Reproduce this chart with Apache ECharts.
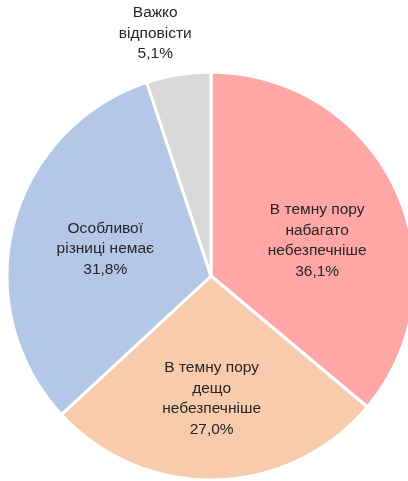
<!DOCTYPE html>
<html>
<head>
<meta charset="utf-8">
<script src="https://cdn.jsdelivr.net/npm/echarts@6/dist/echarts.min.js"></script>
<style>
  html, body { margin: 0; padding: 0; background: #fff; }
  #chart { width: 408px; height: 481px; }
</style>
</head>
<body>
<div id="chart"></div>
<script>
// data
const categories = [
  "В темну пору\nнабагато\nнебезпечніше",
  "В темну пору\nдещо\nнебезпечніше",
  "Особливої\nрізниці немає",
  "Важко\nвідповісти"
];
const shares = [36.1, 27.0, 31.8, 5.1];
const sliceColors = ["#FFA7A7", "#F8CBAD", "#B4C7E7", "#D9D9D9"];

// nudges from the default inside label spot, to match where Excel put them
const labelShift = [[11, 9], [-2, 18], [-4, -1], [-39, -139]];

const chart = echarts.init(document.getElementById("chart"));

const option = {
  animation: false,
  series: [
    {
      type: "pie",
      center: [211, 276],
      radius: [0, 204],
      startAngle: 90,
      clockwise: true,
      data: categories.map((name, i) => ({
        name,
        value: shares[i],
        itemStyle: { color: sliceColors[i] }
      })),
      itemStyle: {
        borderColor: "#fff",
        borderWidth: 3
      },
      label: {
        show: true,
        position: "inside",
        color: "#262626",
        fontFamily: "Liberation Sans",
        fontSize: 15.5,
        lineHeight: 20.5,
        align: "center",
        formatter(p) {
          return p.name + "\n" + p.value.toFixed(1).replace(".", ",") + "%";
        }
      },
      labelLine: { show: false },
      labelLayout(params) {
        const s = labelShift[params.dataIndex];
        return { dx: s[0], dy: s[1] };
      },
      emphasis: { disabled: true }
    }
  ]
};

chart.setOption(option);
</script>
</body>
</html>
